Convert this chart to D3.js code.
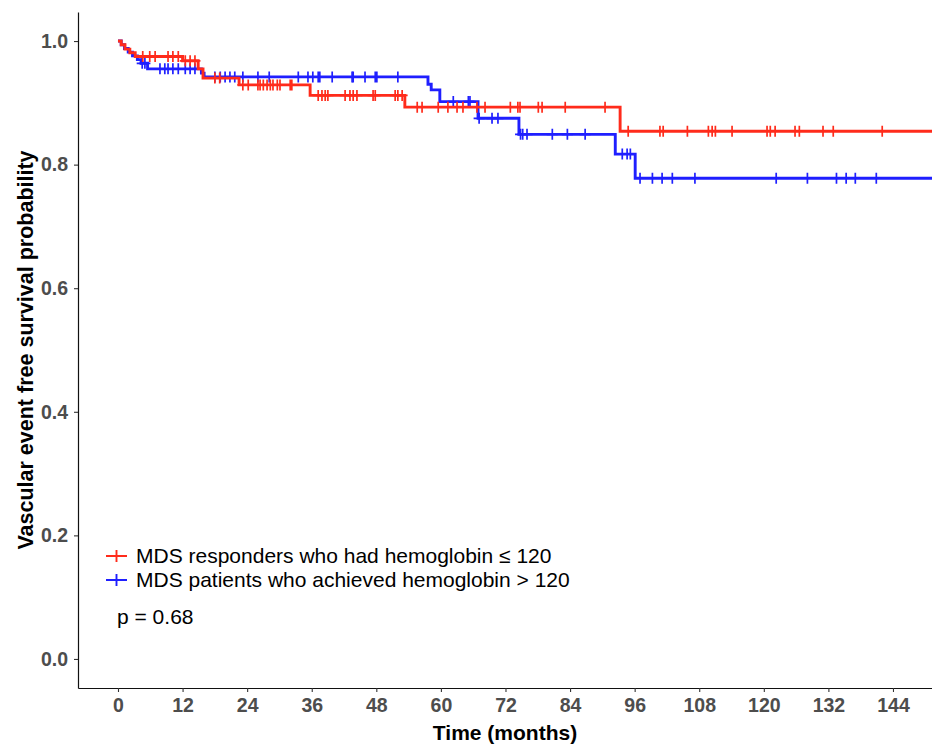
<!DOCTYPE html>
<html>
<head>
<meta charset="utf-8">
<script src="https://cdn.jsdelivr.net/npm/d3@7"></script>
<style>
  html, body { margin: 0; padding: 0; background: #fff; }
  svg { display: block; }
</style>
</head>
<body>
<svg id="chart" width="932" height="745"></svg>
<script>
// Kaplan–Meier step points: [time in months, survival after the event]
const lowHbSteps = [
  [0, 1.0], [0.6, 0.994], [1.3, 0.987], [2.2, 0.981], [3.2, 0.975],
  [12.0, 0.968], [14.9, 0.955], [15.8, 0.940], [22.5, 0.929],
  [35.7, 0.912], [53.3, 0.893], [93.3, 0.854]
];
const highHbSteps = [
  [0, 1.0], [0.6, 0.994], [1.2, 0.988], [1.9, 0.982], [2.7, 0.976],
  [3.6, 0.970], [4.3, 0.964], [5.5, 0.955], [15.5, 0.948], [16.0, 0.942],
  [57.6, 0.930], [58.2, 0.921], [59.8, 0.902], [66.9, 0.875],
  [74.5, 0.849], [92.4, 0.817], [96.1, 0.778]
];
// Censored observations (months)
const lowHbCensor = [
  4.6, 5.9, 6.9, 9.3, 10.2, 11.2, 12.5, 13.4, 14.3, 18.0, 18.9, 23.2, 24.2,
  26.0, 26.4, 27.0, 27.7, 28.3, 28.8, 29.6, 30.1, 32.0, 32.3, 37.2, 37.9,
  38.5, 39.0, 42.2, 43.1, 43.7, 44.4, 47.4, 47.8, 51.5, 52.0, 52.8, 55.6,
  56.5, 59.5, 61.3, 63.0, 64.1, 66.7, 68.2, 72.9, 74.3, 74.7, 78.1, 78.8,
  83.1, 90.5, 94.8, 100.7, 101.3, 105.8, 109.7, 110.4, 111.0, 114.1, 120.6,
  121.2, 122.1, 125.8, 126.6, 131.0, 132.9, 142.0
];
const highHbCensor = [
  4.5, 5.0, 7.8, 8.7, 9.3, 10.2, 11.2, 12.5, 13.4, 14.3, 18.0, 19.0, 19.9,
  20.8, 21.7, 23.2, 26.0, 28.1, 33.5, 35.3, 36.2, 37.2, 37.5, 39.8, 43.5,
  43.7, 45.9, 47.8, 48.1, 52.0, 62.3, 65.1, 65.4, 67.1, 69.5, 70.6, 74.8,
  75.2, 76.0, 80.7, 83.5, 86.8, 93.7, 94.6, 95.2, 97.0, 99.3, 101.1, 103.0,
  107.2, 122.3, 128.1, 133.5, 135.3, 137.0, 140.9
];
const followUpEnd = 155;

const groupNames = [
  "MDS responders who had hemoglobin \u2264 120",
  "MDS patients who achieved hemoglobin > 120"
];
const groupColors = ["#ff2b1b", "#1f1fff"];
const xTicks = [0, 12, 24, 36, 48, 60, 72, 84, 96, 108, 120, 132, 144];
const yTicks = [0.0, 0.2, 0.4, 0.6, 0.8, 1.0];
const pValueText = "p = 0.68";

const FONT = "Liberation Sans, Arial, sans-serif";
const svg = d3.select("#chart");
const plot = { left: 78, right: 932, top: 12, bottom: 688 };

const x = d3.scaleLinear().domain([-7.43, 151.25]).range([plot.left, plot.right]);
const y = d3.scaleLinear().domain([-0.047, 1.047]).range([plot.bottom, plot.top]);

svg.append("defs").append("clipPath").attr("id", "plot-clip")
  .append("rect")
  .attr("x", plot.left).attr("y", plot.top - 10)
  .attr("width", plot.right - plot.left).attr("height", plot.bottom - plot.top + 10);

// survival value at time t from a step list
function survAt(steps, t) {
  const i = d3.bisectRight(steps.map(d => d[0]), t) - 1;
  return steps[Math.max(0, i)][1];
}

const groups = [
  { steps: lowHbSteps, censor: lowHbCensor, color: groupColors[0] },
  { steps: highHbSteps, censor: highHbCensor, color: groupColors[1] }
];

const line = d3.line()
  .x(d => x(d[0]))
  .y(d => y(d[1]))
  .curve(d3.curveStepAfter);

const layer = svg.append("g").attr("clip-path", "url(#plot-clip)");

// blue group underneath, red group on top
[1, 0].forEach(gi => {
  const g = groups[gi];
  const pts = g.steps.concat([[followUpEnd, g.steps[g.steps.length - 1][1]]]);
  layer.append("path")
    .datum(pts)
    .attr("fill", "none")
    .attr("stroke", g.color)
    .attr("stroke-width", 2.9)
    .attr("d", line);

  const plus = 5.5;
  layer.append("g").selectAll("path")
    .data(g.censor)
    .join("path")
    .attr("d", t => {
      const cx = x(t), cy = y(survAt(g.steps, t));
      return `M${cx - plus},${cy}H${cx + plus}M${cx},${cy - plus}V${cy + plus}`;
    })
    .attr("stroke", g.color)
    .attr("stroke-width", 1.7)
    .attr("fill", "none");
});

// axes
const axisColor = "#333";
const tickLabelColor = "#4d4d4d";

const xAxis = svg.append("g")
  .attr("transform", `translate(0,${plot.bottom})`)
  .call(d3.axisBottom(x).tickValues(xTicks).tickSizeInner(4).tickSizeOuter(0)
    .tickPadding(6).tickFormat(d3.format("d")));
const yAxis = svg.append("g")
  .attr("transform", `translate(${plot.left},0)`)
  .call(d3.axisLeft(y).tickValues(yTicks).tickSizeInner(4).tickSizeOuter(0)
    .tickPadding(6).tickFormat(d3.format(".1f")));

[xAxis, yAxis].forEach(a => {
  a.select(".domain").attr("stroke", "#111").attr("stroke-width", 1.2);
  a.selectAll(".tick line").attr("stroke", axisColor).attr("stroke-width", 1.1);
  a.selectAll(".tick text")
    .attr("fill", tickLabelColor)
    .style("font-family", FONT)
    .style("font-size", "19.5px")
    .style("font-weight", "bold");
});

svg.append("text")
  .attr("x", (plot.left + plot.right) / 2)
  .attr("y", 740)
  .attr("text-anchor", "middle")
  .style("font-family", FONT)
  .style("font-size", "21px")
  .style("font-weight", "bold")
  .attr("fill", "#000")
  .text("Time (months)");

svg.append("text")
  .attr("transform", `translate(33,${(plot.top + plot.bottom) / 2}) rotate(-90)`)
  .attr("text-anchor", "middle")
  .style("font-family", FONT)
  .style("font-size", "21.5px")
  .style("font-weight", "bold")
  .attr("fill", "#000")
  .text("Vascular event free survival probability");

// legend
const legend = svg.append("g");
groupNames.forEach((name, i) => {
  const cy = 556 + i * 24;
  legend.append("path")
    .attr("d", `M106,${cy}H127M116.5,${cy - 6}V${cy + 6}`)
    .attr("stroke", groupColors[i])
    .attr("stroke-width", 1.9)
    .attr("fill", "none");
  legend.append("text")
    .attr("x", 136)
    .attr("y", cy + 7)
    .style("font-family", FONT)
    .style("font-size", "21px")
    .attr("fill", "#000")
    .text(name);
});

svg.append("text")
  .attr("x", 117)
  .attr("y", 624)
  .style("font-family", FONT)
  .style("font-size", "21px")
  .attr("fill", "#000")
  .text(pValueText);
</script>
</body>
</html>
